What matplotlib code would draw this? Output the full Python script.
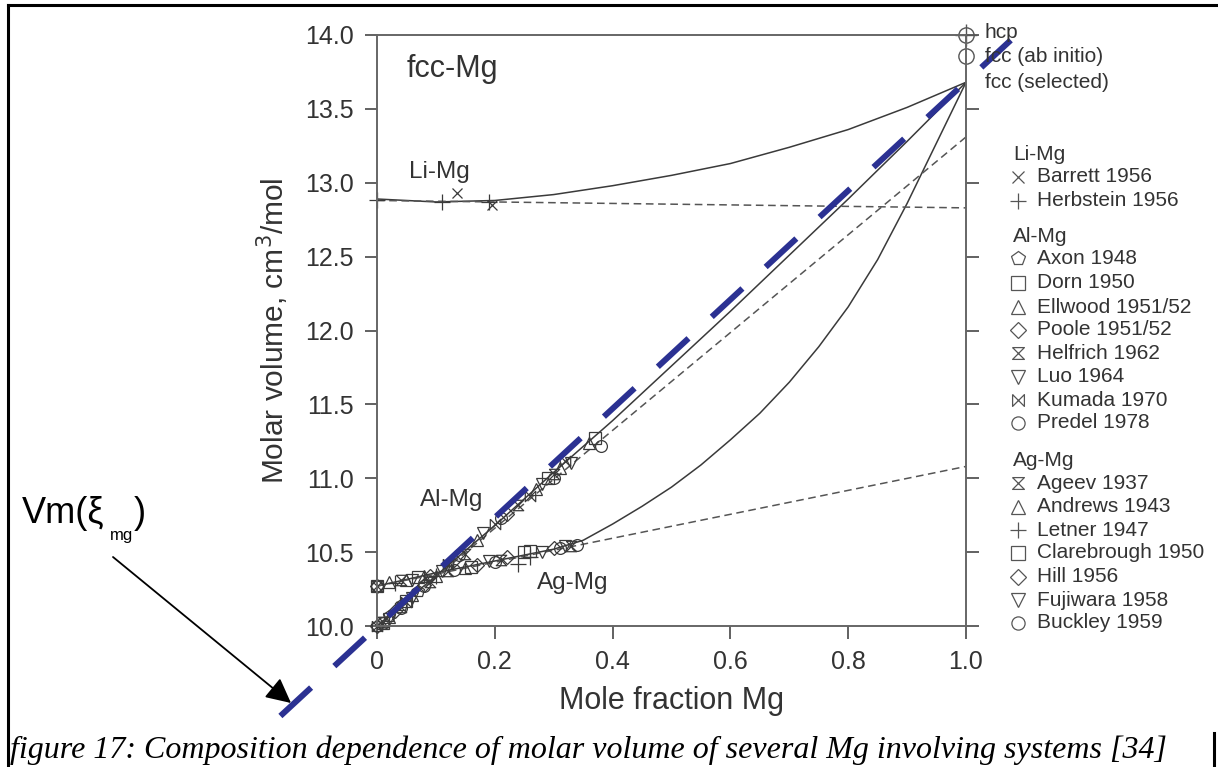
import numpy as np
import matplotlib
matplotlib.use('Agg')
import matplotlib.pyplot as plt
from matplotlib.lines import Line2D

plt.rcParams['font.family'] = ['Liberation Sans', 'DejaVu Sans']

W, H = 1218, 767

# ---- curves
curve_x = [0.0, 0.1, 0.2, 0.3, 0.4, 0.5, 0.6, 0.7, 0.8, 0.9, 1.0]
limg_solid = [12.89, 12.87, 12.88, 12.92, 12.98, 13.05, 13.13, 13.24, 13.36, 13.51, 13.68]
almg_solid = [10.00, 10.34, 10.68, 11.04, 11.39, 11.76, 12.13, 12.51, 12.89, 13.28, 13.68]
agmg_x = [0.0, 0.1, 0.2, 0.3, 0.35, 0.4, 0.45, 0.5, 0.55, 0.6, 0.65, 0.7,
          0.75, 0.8, 0.85, 0.9, 0.95, 1.0]
agmg_solid = [10.27, 10.36, 10.44, 10.52, 10.58, 10.69, 10.81, 10.94, 11.09, 11.26, 11.44, 11.65,
              11.89, 12.16, 12.48, 12.86, 13.27, 13.68]
dash_x = [0.0, 1.0]
limg_dash = [12.88, 12.83]
almg_dash = [10.00, 13.31]
agmg_dash = [10.27, 11.08]

# ---- end members at x=1
hcp_v = 14.0
fcc_abinitio_v = 13.86
fcc_selected_v = 13.68

# ---- measured data
limg_data = {
    'Barrett 1956': ([0.135, 0.195], [12.93, 12.85]),
    'Herbstein 1956': ([0.0, 0.11, 0.19], [12.88, 12.87, 12.87]),
}
almg_data = {
    'Axon 1948': ([0.0, 0.02, 0.04, 0.07], [10.00, 10.07, 10.14, 10.24]),
    'Dorn 1950': ([0.01, 0.05, 0.29, 0.37], [10.02, 10.17, 11.00, 11.27]),
    'Ellwood 1951/52': ([0.02, 0.06, 0.10, 0.17, 0.27, 0.31, 0.36],
                        [10.06, 10.21, 10.34, 10.58, 10.93, 11.07, 11.24]),
    'Poole 1951/52': ([0.0, 0.03, 0.08, 0.13, 0.22], [10.00, 10.10, 10.28, 10.45, 10.76]),
    'Helfrich 1962': ([0.01, 0.04, 0.09, 0.15, 0.24, 0.30], [10.03, 10.13, 10.30, 10.49, 10.82, 11.03]),
    'Luo 1964': ([0.02, 0.06, 0.11, 0.18, 0.28, 0.33], [10.05, 10.19, 10.37, 10.63, 10.96, 11.10]),
    'Kumada 1970': ([0.0, 0.05, 0.12, 0.20, 0.26, 0.32], [10.00, 10.16, 10.42, 10.69, 10.88, 11.12]),
    'Predel 1978': ([0.01, 0.04, 0.08, 0.14, 0.21, 0.30, 0.38],
                    [10.02, 10.12, 10.27, 10.48, 10.73, 11.00, 11.22]),
}
agmg_data = {
    'Ageev 1937': ([0.0, 0.04, 0.12, 0.21, 0.33], [10.27, 10.31, 10.37, 10.45, 10.54]),
    'Andrews 1943': ([0.02, 0.05, 0.08, 0.15], [10.30, 10.31, 10.34, 10.39]),
    'Letner 1947': ([0.03, 0.10, 0.24, 0.26], [10.29, 10.34, 10.42, 10.47]),
    'Clarebrough 1950': ([0.0, 0.07, 0.16, 0.25, 0.26], [10.27, 10.33, 10.40, 10.50, 10.51]),
    'Hill 1956': ([0.0, 0.09, 0.17, 0.22, 0.30], [10.27, 10.34, 10.41, 10.47, 10.53]),
    'Fujiwara 1958': ([0.06, 0.19, 0.28, 0.32], [10.31, 10.44, 10.50, 10.54]),
    'Buckley 1959': ([0.0, 0.13, 0.20, 0.31, 0.34], [10.27, 10.38, 10.43, 10.53, 10.55]),
}

# annotation line Vm(xi_mg)
vm_line_x = [-0.164, 1.076]
vm_line_v = [9.391, 13.965]

hourglass = [(-1, 1), (1, 1), (-1, -1), (1, -1), (-1, 1)]
bowtie = [(-1, 1), (-1, -1), (1, 1), (1, -1), (-1, 1)]
markers = {
    'Barrett 1956': 'x', 'Herbstein 1956': '+',
    'Axon 1948': 'p', 'Dorn 1950': 's', 'Ellwood 1951/52': '^', 'Poole 1951/52': 'D',
    'Helfrich 1962': hourglass, 'Luo 1964': 'v', 'Kumada 1970': bowtie, 'Predel 1978': 'o',
    'Ageev 1937': hourglass, 'Andrews 1943': '^', 'Letner 1947': '+', 'Clarebrough 1950': 's',
    'Hill 1956': 'D', 'Fujiwara 1958': 'v', 'Buckley 1959': 'o',
}
msize = {'D': 7.5, 's': 8.5, 'o': 8.5, 'p': 9, '^': 9, 'v': 9, 'x': 7.5, '+': 11}

gray = '#3a3a3a'
blue = '#2b3192'


def px(x, y):
    return x / W, 1 - y / H


def ms(m):
    return msize.get(m, 7.5) if isinstance(m, str) else 7.5


fig = plt.figure(figsize=(W / 100, H / 100), dpi=100)
ax = fig.add_axes([377 / W, 1 - 626 / H, (966 - 377) / W, (626 - 35) / H])

# curves
ax.plot(curve_x, limg_solid, '-', color=gray, lw=1.1)
ax.plot(curve_x, almg_solid, '-', color=gray, lw=1.1)
ax.plot(agmg_x, agmg_solid, '-', color=gray, lw=1.1)
for v in (limg_dash, almg_dash, agmg_dash):
    ax.plot(dash_x, v, color='#555555', lw=1.1, linestyle=(0, (5, 3)))

# data
for group in (limg_data, almg_data, agmg_data):
    for name, (xs, vs) in group.items():
        m = markers[name]
        ax.plot(xs, vs, linestyle='none', marker=m, ms=ms(m), mfc='none',
                mec=gray, mew=0.9, clip_on=False)

# end members
ax.plot([1.0], [hcp_v], 'o', ms=11, mfc='none', mec='#555555', mew=1.0, clip_on=False)
ax.plot([1.0], [hcp_v], '+', ms=16, mec='#555555', mew=1.0, clip_on=False)
ax.plot([1.0], [fcc_abinitio_v], 'o', ms=11, mfc='none', mec='#555555', mew=1.0, clip_on=False)

ax.set_xlim(0, 1.0)
ax.set_ylim(10.0, 14.0)
ax.set_xticks([0, 0.2, 0.4, 0.6, 0.8, 1.0])
ax.set_xticklabels(['0', '0.2', '0.4', '0.6', '0.8', '1.0'])
ax.set_yticks(np.arange(10.0, 14.01, 0.5))
ax.set_yticklabels(['%.1f' % t for t in np.arange(10.0, 14.01, 0.5)])
ax.tick_params(axis='both', direction='out', length=9, width=1.3, color='#555555',
               labelsize=18, labelcolor='#333333', pad=8)
ax.tick_params(axis='y', right=True)
for s in ax.spines.values():
    s.set_color('#666666')
    s.set_linewidth(1.4)
ax.set_xlabel('Mole fraction Mg', fontsize=22, color='#333333', labelpad=9)
ax.set_ylabel('Molar volume, cm$^3$/mol', fontsize=21.5, color='#333333', labelpad=10)

ax.text(0.05, 13.77, 'fcc-Mg', fontsize=22, color='#333333', va='center')
ax.text(0.055, 13.07, 'Li-Mg', fontsize=17.5, color='#333333', va='center')
ax.text(0.073, 10.85, 'Al-Mg', fontsize=17.5, color='#333333', va='center')
ax.text(0.271, 10.29, 'Ag-Mg', fontsize=17.5, color='#333333', va='center')

# right-side labels
for txt, y in (('hcp', 33), ('fcc (ab initio)', 57), ('fcc (selected)', 83)):
    fig.text(*px(985, y), txt, fontsize=15, color='#333333', va='center')

# legend, drawn by hand
legend_rows = [
    ('Li-Mg', None, 155), ('Barrett 1956', 'Barrett 1956', 177), ('Herbstein 1956', 'Herbstein 1956', 201),
    ('Al-Mg', None, 237), ('Axon 1948', 'Axon 1948', 258), ('Dorn 1950', 'Dorn 1950', 283),
    ('Ellwood 1951/52', 'Ellwood 1951/52', 307), ('Poole 1951/52', 'Poole 1951/52', 330),
    ('Helfrich 1962', 'Helfrich 1962', 353), ('Luo 1964', 'Luo 1964', 377),
    ('Kumada 1970', 'Kumada 1970', 400), ('Predel 1978', 'Predel 1978', 423),
    ('Ag-Mg', None, 460), ('Ageev 1937', 'Ageev 1937', 483), ('Andrews 1943', 'Andrews 1943', 507),
    ('Letner 1947', 'Letner 1947', 530), ('Clarebrough 1950', 'Clarebrough 1950', 553),
    ('Hill 1956', 'Hill 1956', 577), ('Fujiwara 1958', 'Fujiwara 1958', 600),
    ('Buckley 1959', 'Buckley 1959', 623),
]
for label, key, y in legend_rows:
    if key is None:
        fig.text(*px(1013, y), label, fontsize=15, color='#333333', va='center')
    else:
        m = markers[key]
        fig.add_artist(Line2D([1018 / W], [1 - y / H], marker=m, ms=ms(m) + 1, mfc='none',
                              mec='#555555', mew=0.9, linestyle='none',
                              transform=fig.transFigure))
        fig.text(*px(1037, y), label, fontsize=15, color='#333333', va='center')

# blue dashed Vm line
ax.plot(vm_line_x, vm_line_v, color=blue, lw=4.3, linestyle=(0, (7, 5.3)),
        dash_capstyle='butt', clip_on=False, zorder=5)

# Vm annotation
fig.text(*px(22, 523), 'Vm(\u03be', fontsize=26, va='baseline')
fig.text(*px(110, 540), 'mg', fontsize=12, va='baseline')
fig.text(*px(134, 523), ')', fontsize=26, va='baseline')
ax.annotate('', xy=px(291, 703), xycoords='figure fraction',
            xytext=px(113, 557), textcoords='figure fraction',
            arrowprops=dict(arrowstyle='-|>', color='black', lw=1.3, mutation_scale=38,
                            shrinkA=0, shrinkB=0))

# caption
fig.text(*px(10, 758), 'figure 17: Composition dependence of molar volume of several Mg involving systems [34]',
         fontsize=23, family=['Liberation Serif'], style='italic', va='baseline')

# page frame
fig.add_artist(Line2D([8 / W, 1217 / W], [1 - 5 / H, 1 - 5 / H], color='black', lw=2.2,
                      transform=fig.transFigure))
fig.add_artist(Line2D([8 / W, 8 / W], [1 - 5 / H, 0], color='black', lw=2.2,
                      transform=fig.transFigure))
fig.add_artist(Line2D([1214 / W, 1214 / W], [1 - 733 / H, 0], color='black', lw=2.2,
                      transform=fig.transFigure))

fig.savefig('out.png', dpi=100)
